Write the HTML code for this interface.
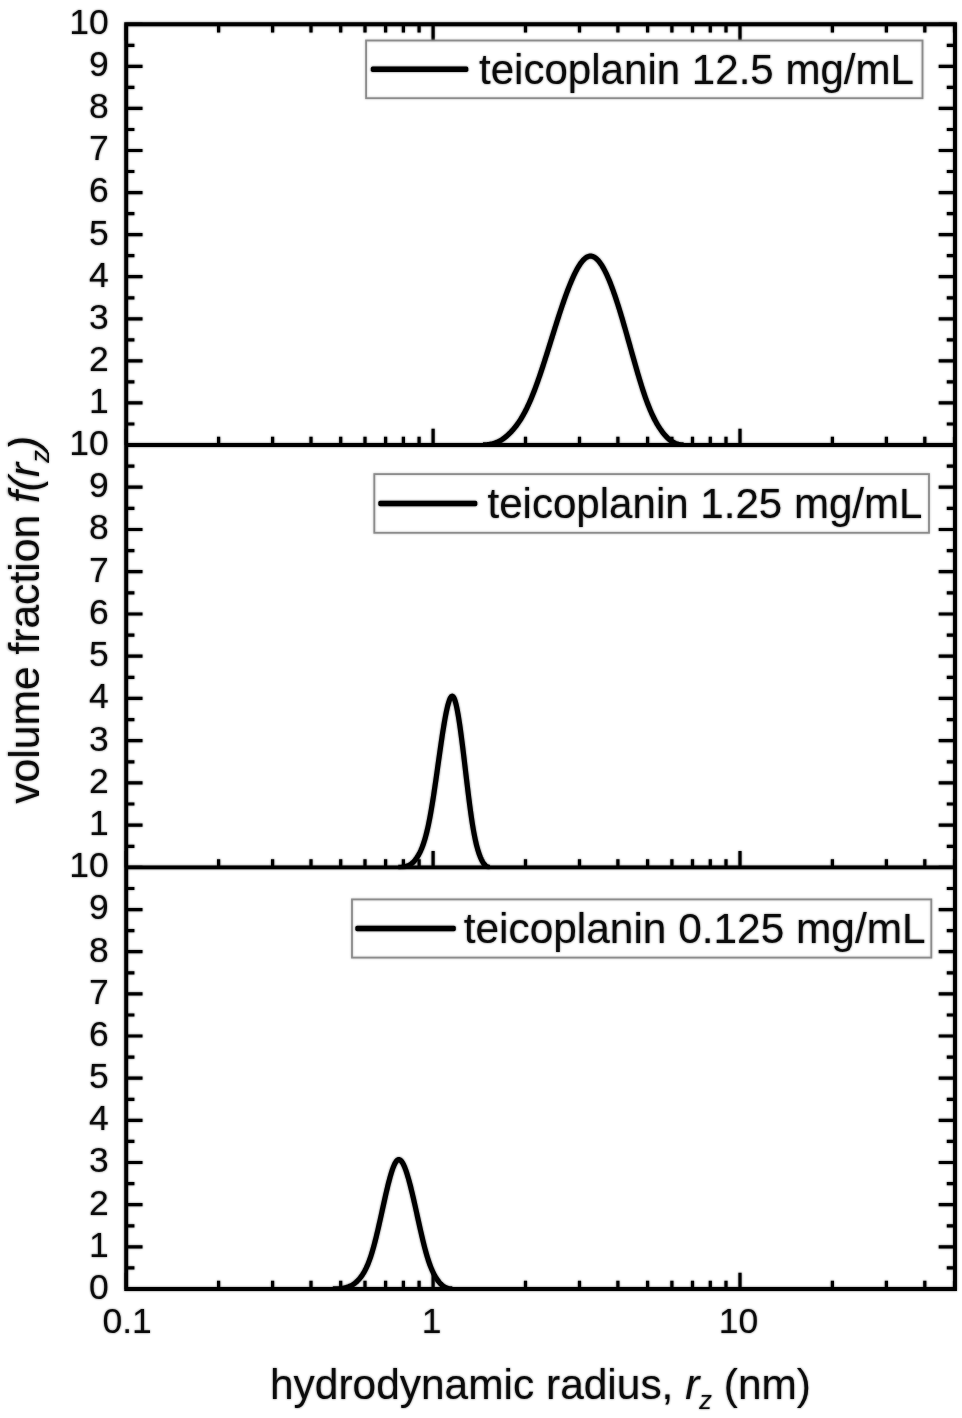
<!DOCTYPE html><html><head><meta charset="utf-8"><title>teicoplanin DLS</title>
<style>html,body{margin:0;padding:0;background:#fff}svg{display:block}text{font-family:"Liberation Sans",Arial,sans-serif;fill:#0a0a0a}</style></head><body>
<svg width="962" height="1418" viewBox="0 0 962 1418">
<rect width="962" height="1418" fill="#fff"/>
<defs><filter id="bl" x="0" y="0" width="962" height="1418" filterUnits="userSpaceOnUse"><feGaussianBlur stdDeviation="0.9"/></filter></defs>
<g id="chart">
<path d="M126.2 445.0h16.3M955.0 445.0h-16.3M126.2 424.0h8.2M955.0 424.0h-8.2M126.2 402.9h16.3M955.0 402.9h-16.3M126.2 381.9h8.2M955.0 381.9h-8.2M126.2 360.9h16.3M955.0 360.9h-16.3M126.2 339.8h8.2M955.0 339.8h-8.2M126.2 318.8h16.3M955.0 318.8h-16.3M126.2 297.8h8.2M955.0 297.8h-8.2M126.2 276.7h16.3M955.0 276.7h-16.3M126.2 255.7h8.2M955.0 255.7h-8.2M126.2 234.7h16.3M955.0 234.7h-16.3M126.2 213.6h8.2M955.0 213.6h-8.2M126.2 192.6h16.3M955.0 192.6h-16.3M126.2 171.5h8.2M955.0 171.5h-8.2M126.2 150.5h16.3M955.0 150.5h-16.3M126.2 129.5h8.2M955.0 129.5h-8.2M126.2 108.4h16.3M955.0 108.4h-16.3M126.2 87.4h8.2M955.0 87.4h-8.2M126.2 66.4h16.3M955.0 66.4h-16.3M126.2 45.3h8.2M955.0 45.3h-8.2M126.2 24.3h16.3M955.0 24.3h-16.3M126.2 445.0v-16.3M126.2 24.3v16.3M218.6 445.0v-8.2M218.6 24.3v8.2M272.6 445.0v-8.2M272.6 24.3v8.2M311.0 445.0v-8.2M311.0 24.3v8.2M340.7 445.0v-8.2M340.7 24.3v8.2M365.0 445.0v-8.2M365.0 24.3v8.2M385.6 445.0v-8.2M385.6 24.3v8.2M403.4 445.0v-8.2M403.4 24.3v8.2M419.1 445.0v-8.2M419.1 24.3v8.2M433.1 445.0v-16.3M433.1 24.3v16.3M525.5 445.0v-8.2M525.5 24.3v8.2M579.5 445.0v-8.2M579.5 24.3v8.2M617.9 445.0v-8.2M617.9 24.3v8.2M647.6 445.0v-8.2M647.6 24.3v8.2M671.9 445.0v-8.2M671.9 24.3v8.2M692.5 445.0v-8.2M692.5 24.3v8.2M710.3 445.0v-8.2M710.3 24.3v8.2M726.0 445.0v-8.2M726.0 24.3v8.2M740.0 445.0v-16.3M740.0 24.3v16.3M832.4 445.0v-8.2M832.4 24.3v8.2M886.4 445.0v-8.2M886.4 24.3v8.2M924.8 445.0v-8.2M924.8 24.3v8.2M954.5 445.0v-8.2M954.5 24.3v8.2M126.2 867.4h16.3M955.0 867.4h-16.3M126.2 846.3h8.2M955.0 846.3h-8.2M126.2 825.2h16.3M955.0 825.2h-16.3M126.2 804.0h8.2M955.0 804.0h-8.2M126.2 782.9h16.3M955.0 782.9h-16.3M126.2 761.8h8.2M955.0 761.8h-8.2M126.2 740.7h16.3M955.0 740.7h-16.3M126.2 719.6h8.2M955.0 719.6h-8.2M126.2 698.4h16.3M955.0 698.4h-16.3M126.2 677.3h8.2M955.0 677.3h-8.2M126.2 656.2h16.3M955.0 656.2h-16.3M126.2 635.1h8.2M955.0 635.1h-8.2M126.2 614.0h16.3M955.0 614.0h-16.3M126.2 592.8h8.2M955.0 592.8h-8.2M126.2 571.7h16.3M955.0 571.7h-16.3M126.2 550.6h8.2M955.0 550.6h-8.2M126.2 529.5h16.3M955.0 529.5h-16.3M126.2 508.4h8.2M955.0 508.4h-8.2M126.2 487.2h16.3M955.0 487.2h-16.3M126.2 466.1h8.2M955.0 466.1h-8.2M126.2 445.0h16.3M955.0 445.0h-16.3M126.2 867.4v-16.3M218.6 867.4v-8.2M272.6 867.4v-8.2M311.0 867.4v-8.2M340.7 867.4v-8.2M365.0 867.4v-8.2M385.6 867.4v-8.2M403.4 867.4v-8.2M419.1 867.4v-8.2M433.1 867.4v-16.3M525.5 867.4v-8.2M579.5 867.4v-8.2M617.9 867.4v-8.2M647.6 867.4v-8.2M671.9 867.4v-8.2M692.5 867.4v-8.2M710.3 867.4v-8.2M726.0 867.4v-8.2M740.0 867.4v-16.3M832.4 867.4v-8.2M886.4 867.4v-8.2M924.8 867.4v-8.2M954.5 867.4v-8.2M126.2 1289.0h16.3M955.0 1289.0h-16.3M126.2 1267.9h8.2M955.0 1267.9h-8.2M126.2 1246.8h16.3M955.0 1246.8h-16.3M126.2 1225.8h8.2M955.0 1225.8h-8.2M126.2 1204.7h16.3M955.0 1204.7h-16.3M126.2 1183.6h8.2M955.0 1183.6h-8.2M126.2 1162.5h16.3M955.0 1162.5h-16.3M126.2 1141.4h8.2M955.0 1141.4h-8.2M126.2 1120.4h16.3M955.0 1120.4h-16.3M126.2 1099.3h8.2M955.0 1099.3h-8.2M126.2 1078.2h16.3M955.0 1078.2h-16.3M126.2 1057.1h8.2M955.0 1057.1h-8.2M126.2 1036.0h16.3M955.0 1036.0h-16.3M126.2 1015.0h8.2M955.0 1015.0h-8.2M126.2 993.9h16.3M955.0 993.9h-16.3M126.2 972.8h8.2M955.0 972.8h-8.2M126.2 951.7h16.3M955.0 951.7h-16.3M126.2 930.6h8.2M955.0 930.6h-8.2M126.2 909.6h16.3M955.0 909.6h-16.3M126.2 888.5h8.2M955.0 888.5h-8.2M126.2 867.4h16.3M955.0 867.4h-16.3M126.2 1289.0v-16.3M218.6 1289.0v-8.2M272.6 1289.0v-8.2M311.0 1289.0v-8.2M340.7 1289.0v-8.2M365.0 1289.0v-8.2M385.6 1289.0v-8.2M403.4 1289.0v-8.2M419.1 1289.0v-8.2M433.1 1289.0v-16.3M525.5 1289.0v-8.2M579.5 1289.0v-8.2M617.9 1289.0v-8.2M647.6 1289.0v-8.2M671.9 1289.0v-8.2M692.5 1289.0v-8.2M710.3 1289.0v-8.2M726.0 1289.0v-8.2M740.0 1289.0v-16.3M832.4 1289.0v-8.2M886.4 1289.0v-8.2M924.8 1289.0v-8.2M954.5 1289.0v-8.2" stroke="#000" stroke-width="3.2" fill="none"/>
<path d="M126.2 24.3H955.0V1289.0H126.2Z M126.2 445.0H955.0 M126.2 867.4H955.0" stroke="#000" stroke-width="3.9" fill="none" stroke-linejoin="miter"/>
<clipPath id="cp0"><rect x="126.2" y="24.3" width="828.8" height="422.65"/></clipPath>
<path d="M483.0 444.97 L483.5 444.96 L484.0 444.94 L484.5 444.92 L485.0 444.90 L485.5 444.87 L486.0 444.84 L486.5 444.80 L487.0 444.75 L487.5 444.70 L488.0 444.65 L488.5 444.58 L489.0 444.51 L489.5 444.43 L490.0 444.35 L490.5 444.26 L491.0 444.16 L491.5 444.05 L492.0 443.93 L492.5 443.81 L493.0 443.67 L493.5 443.53 L494.0 443.38 L494.5 443.22 L495.0 443.05 L495.5 442.87 L496.0 442.68 L496.5 442.48 L497.0 442.27 L497.5 442.04 L498.0 441.81 L498.5 441.57 L499.0 441.32 L499.5 441.06 L500.0 440.78 L500.5 440.50 L501.0 440.20 L501.5 439.90 L502.0 439.58 L502.5 439.25 L503.0 438.91 L503.5 438.56 L504.0 438.20 L504.5 437.82 L505.0 437.44 L505.5 437.04 L506.0 436.63 L506.5 436.21 L507.0 435.78 L507.5 435.34 L508.0 434.89 L508.5 434.42 L509.0 433.94 L509.5 433.46 L510.0 432.96 L510.5 432.45 L511.0 431.93 L511.5 431.39 L512.0 430.85 L512.5 430.30 L513.0 429.73 L513.5 429.15 L514.0 428.57 L514.5 427.96 L515.0 427.35 L515.5 426.72 L516.0 426.07 L516.5 425.41 L517.0 424.74 L517.5 424.05 L518.0 423.34 L518.5 422.62 L519.0 421.88 L519.5 421.13 L520.0 420.36 L520.5 419.57 L521.0 418.77 L521.5 417.95 L522.0 417.11 L522.5 416.26 L523.0 415.39 L523.5 414.50 L524.0 413.59 L524.5 412.67 L525.0 411.73 L525.5 410.77 L526.0 409.79 L526.5 408.79 L527.0 407.78 L527.5 406.74 L528.0 405.69 L528.5 404.62 L529.0 403.53 L529.5 402.42 L530.0 401.29 L530.5 400.14 L531.0 398.97 L531.5 397.78 L532.0 396.57 L532.5 395.34 L533.0 394.09 L533.5 392.82 L534.0 391.53 L534.5 390.23 L535.0 388.90 L535.5 387.56 L536.0 386.21 L536.5 384.84 L537.0 383.45 L537.5 382.05 L538.0 380.64 L538.5 379.21 L539.0 377.77 L539.5 376.32 L540.0 374.85 L540.5 373.37 L541.0 371.88 L541.5 370.38 L542.0 368.88 L542.5 367.36 L543.0 365.83 L543.5 364.29 L544.0 362.75 L544.5 361.20 L545.0 359.64 L545.5 358.08 L546.0 356.51 L546.5 354.93 L547.0 353.35 L547.5 351.76 L548.0 350.18 L548.5 348.58 L549.0 346.99 L549.5 345.39 L550.0 343.79 L550.5 342.19 L551.0 340.59 L551.5 338.99 L552.0 337.39 L552.5 335.79 L553.0 334.19 L553.5 332.60 L554.0 331.00 L554.5 329.41 L555.0 327.82 L555.5 326.24 L556.0 324.66 L556.5 323.09 L557.0 321.52 L557.5 319.96 L558.0 318.40 L558.5 316.85 L559.0 315.31 L559.5 313.78 L560.0 312.25 L560.5 310.74 L561.0 309.23 L561.5 307.74 L562.0 306.25 L562.5 304.78 L563.0 303.32 L563.5 301.87 L564.0 300.43 L564.5 299.01 L565.0 297.60 L565.5 296.20 L566.0 294.82 L566.5 293.45 L567.0 292.10 L567.5 290.77 L568.0 289.46 L568.5 288.16 L569.0 286.88 L569.5 285.61 L570.0 284.37 L570.5 283.15 L571.0 281.94 L571.5 280.76 L572.0 279.60 L572.5 278.46 L573.0 277.34 L573.5 276.24 L574.0 275.17 L574.5 274.12 L575.0 273.09 L575.5 272.09 L576.0 271.12 L576.5 270.17 L577.0 269.24 L577.5 268.35 L578.0 267.48 L578.5 266.63 L579.0 265.82 L579.5 265.04 L580.0 264.28 L580.5 263.56 L581.0 262.86 L581.5 262.20 L582.0 261.56 L582.5 260.96 L583.0 260.39 L583.5 259.86 L584.0 259.36 L584.5 258.89 L585.0 258.45 L585.5 258.05 L586.0 257.69 L586.5 257.36 L587.0 257.07 L587.5 256.82 L588.0 256.60 L588.5 256.43 L589.0 256.29 L589.5 256.19 L590.0 256.13 L590.5 256.11 L591.0 256.13 L591.5 256.18 L592.0 256.28 L592.5 256.41 L593.0 256.58 L593.5 256.79 L594.0 257.04 L594.5 257.32 L595.0 257.64 L595.5 257.99 L596.0 258.38 L596.5 258.81 L597.0 259.27 L597.5 259.76 L598.0 260.29 L598.5 260.85 L599.0 261.45 L599.5 262.08 L600.0 262.74 L600.5 263.44 L601.0 264.16 L601.5 264.92 L602.0 265.71 L602.5 266.53 L603.0 267.39 L603.5 268.27 L604.0 269.18 L604.5 270.12 L605.0 271.09 L605.5 272.09 L606.0 273.12 L606.5 274.17 L607.0 275.26 L607.5 276.37 L608.0 277.50 L608.5 278.66 L609.0 279.85 L609.5 281.06 L610.0 282.30 L610.5 283.56 L611.0 284.85 L611.5 286.16 L612.0 287.49 L612.5 288.84 L613.0 290.22 L613.5 291.61 L614.0 293.03 L614.5 294.47 L615.0 295.93 L615.5 297.40 L616.0 298.90 L616.5 300.41 L617.0 301.94 L617.5 303.49 L618.0 305.06 L618.5 306.64 L619.0 308.24 L619.5 309.85 L620.0 311.47 L620.5 313.11 L621.0 314.77 L621.5 316.43 L622.0 318.11 L622.5 319.80 L623.0 321.50 L623.5 323.21 L624.0 324.93 L624.5 326.66 L625.0 328.39 L625.5 330.14 L626.0 331.89 L626.5 333.65 L627.0 335.41 L627.5 337.18 L628.0 338.95 L628.5 340.73 L629.0 342.50 L629.5 344.28 L630.0 346.07 L630.5 347.85 L631.0 349.63 L631.5 351.41 L632.0 353.20 L632.5 354.97 L633.0 356.75 L633.5 358.52 L634.0 360.29 L634.5 362.05 L635.0 363.81 L635.5 365.56 L636.0 367.30 L636.5 369.03 L637.0 370.75 L637.5 372.47 L638.0 374.17 L638.5 375.86 L639.0 377.54 L639.5 379.20 L640.0 380.85 L640.5 382.48 L641.0 384.10 L641.5 385.70 L642.0 387.28 L642.5 388.85 L643.0 390.39 L643.5 391.91 L644.0 393.41 L644.5 394.89 L645.0 396.35 L645.5 397.78 L646.0 399.18 L646.5 400.56 L647.0 401.91 L647.5 403.24 L648.0 404.54 L648.5 405.82 L649.0 407.07 L649.5 408.30 L650.0 409.50 L650.5 410.68 L651.0 411.83 L651.5 412.96 L652.0 414.07 L652.5 415.15 L653.0 416.21 L653.5 417.25 L654.0 418.26 L654.5 419.25 L655.0 420.21 L655.5 421.16 L656.0 422.08 L656.5 422.97 L657.0 423.85 L657.5 424.70 L658.0 425.54 L658.5 426.35 L659.0 427.14 L659.5 427.91 L660.0 428.65 L660.5 429.38 L661.0 430.09 L661.5 430.79 L662.0 431.47 L662.5 432.14 L663.0 432.78 L663.5 433.42 L664.0 434.03 L664.5 434.63 L665.0 435.21 L665.5 435.77 L666.0 436.32 L666.5 436.85 L667.0 437.36 L667.5 437.85 L668.0 438.33 L668.5 438.79 L669.0 439.23 L669.5 439.65 L670.0 440.06 L670.5 440.44 L671.0 440.81 L671.5 441.16 L672.0 441.50 L672.5 441.82 L673.0 442.12 L673.5 442.40 L674.0 442.66 L674.5 442.91 L675.0 443.14 L675.5 443.36 L676.0 443.56 L676.5 443.75 L677.0 443.92 L677.5 444.07 L678.0 444.21 L678.5 444.34 L679.0 444.45 L679.5 444.55 L680.0 444.64 L680.5 444.71 L681.0 444.78 L681.5 444.83 L682.0 444.88 L682.5 444.92 L683.0 444.94 L683.5 444.97" clip-path="url(#cp0)" stroke="#000" stroke-width="5.2" fill="none" stroke-linejoin="round" stroke-linecap="butt"/>
<clipPath id="cp1"><rect x="126.2" y="445.0" width="828.8" height="424.35"/></clipPath>
<path d="M398.3 867.37 L398.8 867.36 L399.3 867.34 L399.8 867.32 L400.3 867.29 L400.8 867.26 L401.3 867.22 L401.8 867.18 L402.3 867.13 L402.8 867.07 L403.3 866.99 L403.8 866.91 L404.3 866.82 L404.8 866.72 L405.3 866.60 L405.8 866.47 L406.3 866.32 L406.8 866.16 L407.3 865.98 L407.8 865.78 L408.3 865.57 L408.8 865.33 L409.3 865.07 L409.8 864.79 L410.3 864.48 L410.8 864.15 L411.3 863.79 L411.8 863.41 L412.3 862.99 L412.8 862.55 L413.3 862.08 L413.8 861.57 L414.3 861.03 L414.8 860.46 L415.3 859.84 L415.8 859.20 L416.3 858.51 L416.8 857.79 L417.3 857.03 L417.8 856.22 L418.3 855.38 L418.8 854.49 L419.3 853.56 L419.8 852.59 L420.3 851.56 L420.8 850.48 L421.3 849.33 L421.8 848.13 L422.3 846.86 L422.8 845.52 L423.3 844.11 L423.8 842.62 L424.3 841.06 L424.8 839.42 L425.3 837.70 L425.8 835.89 L426.3 833.99 L426.8 832.01 L427.3 829.92 L427.8 827.74 L428.3 825.46 L428.8 823.07 L429.3 820.57 L429.8 817.98 L430.3 815.29 L430.8 812.50 L431.3 809.63 L431.8 806.67 L432.3 803.63 L432.8 800.51 L433.3 797.32 L433.8 794.07 L434.3 790.76 L434.8 787.40 L435.3 783.98 L435.8 780.53 L436.3 777.04 L436.8 773.53 L437.3 769.99 L437.8 766.44 L438.3 762.89 L438.8 759.33 L439.3 755.79 L439.8 752.27 L440.3 748.77 L440.8 745.30 L441.3 741.88 L441.8 738.51 L442.3 735.21 L442.8 731.97 L443.3 728.81 L443.8 725.74 L444.3 722.77 L444.8 719.90 L445.3 717.15 L445.8 714.53 L446.3 712.04 L446.8 709.70 L447.3 707.51 L447.8 705.48 L448.3 703.63 L448.8 701.97 L449.3 700.49 L449.8 699.22 L450.3 698.16 L450.8 697.31 L451.3 696.70 L451.8 696.33 L452.3 696.20 L452.8 696.36 L453.3 696.83 L453.8 697.59 L454.3 698.64 L454.8 699.96 L455.3 701.54 L455.8 703.37 L456.3 705.44 L456.8 707.73 L457.3 710.23 L457.8 712.93 L458.3 715.81 L458.8 718.87 L459.3 722.10 L459.8 725.47 L460.3 728.98 L460.8 732.61 L461.3 736.36 L461.8 740.21 L462.3 744.15 L462.8 748.17 L463.3 752.25 L463.8 756.38 L464.3 760.55 L464.8 764.75 L465.3 768.97 L465.8 773.19 L466.3 777.41 L466.8 781.61 L467.3 785.77 L467.8 789.90 L468.3 793.97 L468.8 797.98 L469.3 801.92 L469.8 805.76 L470.3 809.51 L470.8 813.15 L471.3 816.68 L471.8 820.07 L472.3 823.32 L472.8 826.42 L473.3 829.36 L473.8 832.16 L474.3 834.81 L474.8 837.32 L475.3 839.70 L475.8 841.94 L476.3 844.06 L476.8 846.05 L477.3 847.92 L477.8 849.67 L478.3 851.32 L478.8 852.85 L479.3 854.30 L479.8 855.66 L480.3 856.95 L480.8 858.15 L481.3 859.27 L481.8 860.31 L482.3 861.27 L482.8 862.15 L483.3 862.95 L483.8 863.67 L484.3 864.31 L484.8 864.89 L485.3 865.39 L485.8 865.82 L486.3 866.19 L486.8 866.50 L487.3 866.76 L487.8 866.96 L488.3 867.12 L488.8 867.23 L489.3 867.31 L489.8 867.36" clip-path="url(#cp1)" stroke="#000" stroke-width="5.2" fill="none" stroke-linejoin="round" stroke-linecap="butt"/>
<clipPath id="cp2"><rect x="126.2" y="867.4" width="828.8" height="423.55"/></clipPath>
<path d="M332.8 1288.98 L333.3 1288.97 L333.8 1288.96 L334.3 1288.95 L334.8 1288.94 L335.3 1288.92 L335.8 1288.91 L336.3 1288.89 L336.8 1288.87 L337.3 1288.84 L337.8 1288.81 L338.3 1288.78 L338.8 1288.75 L339.3 1288.71 L339.8 1288.66 L340.3 1288.61 L340.8 1288.56 L341.3 1288.50 L341.8 1288.43 L342.3 1288.36 L342.8 1288.28 L343.3 1288.20 L343.8 1288.11 L344.3 1288.00 L344.8 1287.90 L345.3 1287.78 L345.8 1287.65 L346.3 1287.51 L346.8 1287.37 L347.3 1287.21 L347.8 1287.04 L348.3 1286.86 L348.8 1286.67 L349.3 1286.46 L349.8 1286.24 L350.3 1286.01 L350.8 1285.76 L351.3 1285.50 L351.8 1285.23 L352.3 1284.94 L352.8 1284.63 L353.3 1284.30 L353.8 1283.96 L354.3 1283.60 L354.8 1283.22 L355.3 1282.82 L355.8 1282.41 L356.3 1281.97 L356.8 1281.51 L357.3 1281.03 L357.8 1280.53 L358.3 1280.01 L358.8 1279.47 L359.3 1278.91 L359.8 1278.32 L360.3 1277.71 L360.8 1277.07 L361.3 1276.40 L361.8 1275.70 L362.3 1274.97 L362.8 1274.20 L363.3 1273.40 L363.8 1272.56 L364.3 1271.69 L364.8 1270.78 L365.3 1269.82 L365.8 1268.83 L366.3 1267.79 L366.8 1266.71 L367.3 1265.58 L367.8 1264.41 L368.3 1263.19 L368.8 1261.91 L369.3 1260.59 L369.8 1259.21 L370.3 1257.78 L370.8 1256.30 L371.3 1254.75 L371.8 1253.15 L372.3 1251.50 L372.8 1249.79 L373.3 1248.03 L373.8 1246.22 L374.3 1244.37 L374.8 1242.47 L375.3 1240.52 L375.8 1238.54 L376.3 1236.51 L376.8 1234.45 L377.3 1232.36 L377.8 1230.23 L378.3 1228.08 L378.8 1225.90 L379.3 1223.69 L379.8 1221.47 L380.3 1219.23 L380.8 1216.97 L381.3 1214.71 L381.8 1212.44 L382.3 1210.16 L382.8 1207.89 L383.3 1205.61 L383.8 1203.35 L384.3 1201.10 L384.8 1198.86 L385.3 1196.64 L385.8 1194.44 L386.3 1192.28 L386.8 1190.14 L387.3 1188.04 L387.8 1185.98 L388.3 1183.96 L388.8 1181.99 L389.3 1180.07 L389.8 1178.21 L390.3 1176.42 L390.8 1174.68 L391.3 1173.02 L391.8 1171.44 L392.3 1169.93 L392.8 1168.51 L393.3 1167.17 L393.8 1165.93 L394.3 1164.79 L394.8 1163.75 L395.3 1162.81 L395.8 1161.99 L396.3 1161.28 L396.8 1160.69 L397.3 1160.22 L397.8 1159.89 L398.3 1159.68 L398.8 1159.61 L399.3 1159.67 L399.8 1159.85 L400.3 1160.15 L400.8 1160.57 L401.3 1161.09 L401.8 1161.72 L402.3 1162.45 L402.8 1163.29 L403.3 1164.22 L403.8 1165.24 L404.3 1166.36 L404.8 1167.56 L405.3 1168.84 L405.8 1170.21 L406.3 1171.65 L406.8 1173.16 L407.3 1174.75 L407.8 1176.40 L408.3 1178.11 L408.8 1179.88 L409.3 1181.71 L409.8 1183.59 L410.3 1185.52 L410.8 1187.50 L411.3 1189.51 L411.8 1191.57 L412.3 1193.66 L412.8 1195.79 L413.3 1197.94 L413.8 1200.12 L414.3 1202.33 L414.8 1204.55 L415.3 1206.79 L415.8 1209.04 L416.3 1211.30 L416.8 1213.56 L417.3 1215.83 L417.8 1218.10 L418.3 1220.36 L418.8 1222.62 L419.3 1224.86 L419.8 1227.10 L420.3 1229.31 L420.8 1231.51 L421.3 1233.69 L421.8 1235.84 L422.3 1237.96 L422.8 1240.05 L423.3 1242.11 L423.8 1244.13 L424.3 1246.10 L424.8 1248.04 L425.3 1249.93 L425.8 1251.77 L426.3 1253.56 L426.8 1255.29 L427.3 1256.97 L427.8 1258.59 L428.3 1260.15 L428.8 1261.66 L429.3 1263.11 L429.8 1264.50 L430.3 1265.84 L430.8 1267.13 L431.3 1268.37 L431.8 1269.56 L432.3 1270.70 L432.8 1271.79 L433.3 1272.84 L433.8 1273.84 L434.3 1274.80 L434.8 1275.71 L435.3 1276.59 L435.8 1277.42 L436.3 1278.21 L436.8 1278.97 L437.3 1279.70 L437.8 1280.41 L438.3 1281.08 L438.8 1281.72 L439.3 1282.33 L439.8 1282.91 L440.3 1283.46 L440.8 1283.98 L441.3 1284.47 L441.8 1284.93 L442.3 1285.36 L442.8 1285.76 L443.3 1286.14 L443.8 1286.48 L444.3 1286.80 L444.8 1287.10 L445.3 1287.36 L445.8 1287.61 L446.3 1287.83 L446.8 1288.02 L447.3 1288.20 L447.8 1288.35 L448.3 1288.48 L448.8 1288.60 L449.3 1288.69 L449.8 1288.77 L450.3 1288.84 L450.8 1288.89 L451.3 1288.93 L451.8 1288.96 L452.3 1288.98" clip-path="url(#cp2)" stroke="#000" stroke-width="5.2" fill="none" stroke-linejoin="round" stroke-linecap="butt"/>
<text x="108.7" y="412.7" font-size="35.5" text-anchor="end">1</text>
<text x="108.7" y="370.7" font-size="35.5" text-anchor="end">2</text>
<text x="108.7" y="328.6" font-size="35.5" text-anchor="end">3</text>
<text x="108.7" y="286.5" font-size="35.5" text-anchor="end">4</text>
<text x="108.7" y="244.5" font-size="35.5" text-anchor="end">5</text>
<text x="108.7" y="202.4" font-size="35.5" text-anchor="end">6</text>
<text x="108.7" y="160.3" font-size="35.5" text-anchor="end">7</text>
<text x="108.7" y="118.2" font-size="35.5" text-anchor="end">8</text>
<text x="108.7" y="76.2" font-size="35.5" text-anchor="end">9</text>
<text x="108.7" y="34.1" font-size="35.5" text-anchor="end">10</text>
<text x="108.7" y="835.0" font-size="35.5" text-anchor="end">1</text>
<text x="108.7" y="792.7" font-size="35.5" text-anchor="end">2</text>
<text x="108.7" y="750.5" font-size="35.5" text-anchor="end">3</text>
<text x="108.7" y="708.2" font-size="35.5" text-anchor="end">4</text>
<text x="108.7" y="666.0" font-size="35.5" text-anchor="end">5</text>
<text x="108.7" y="623.8" font-size="35.5" text-anchor="end">6</text>
<text x="108.7" y="581.5" font-size="35.5" text-anchor="end">7</text>
<text x="108.7" y="539.3" font-size="35.5" text-anchor="end">8</text>
<text x="108.7" y="497.0" font-size="35.5" text-anchor="end">9</text>
<text x="108.7" y="454.8" font-size="35.5" text-anchor="end">10</text>
<text x="108.7" y="1298.8" font-size="35.5" text-anchor="end">0</text>
<text x="108.7" y="1256.6" font-size="35.5" text-anchor="end">1</text>
<text x="108.7" y="1214.5" font-size="35.5" text-anchor="end">2</text>
<text x="108.7" y="1172.3" font-size="35.5" text-anchor="end">3</text>
<text x="108.7" y="1130.2" font-size="35.5" text-anchor="end">4</text>
<text x="108.7" y="1088.0" font-size="35.5" text-anchor="end">5</text>
<text x="108.7" y="1045.8" font-size="35.5" text-anchor="end">6</text>
<text x="108.7" y="1003.7" font-size="35.5" text-anchor="end">7</text>
<text x="108.7" y="961.5" font-size="35.5" text-anchor="end">8</text>
<text x="108.7" y="919.4" font-size="35.5" text-anchor="end">9</text>
<text x="108.7" y="877.2" font-size="35.5" text-anchor="end">10</text>
<text x="127.2" y="1333.2" font-size="35.5" text-anchor="middle">0.1</text>
<text x="431.6" y="1333.2" font-size="35.5" text-anchor="middle">1</text>
<text x="738.5" y="1333.2" font-size="35.5" text-anchor="middle">10</text>
<rect x="366.1" y="40.5" width="556.4" height="57.7" fill="none" stroke="#8c8c8c" stroke-width="1.8"/>
<rect x="370.8" y="66.6" width="97.5" height="5.4" rx="1.8" fill="#000"/>
<text x="479.0" y="83.6" font-size="42" textLength="435.0" lengthAdjust="spacingAndGlyphs">teicoplanin 12.5 mg/mL</text>
<rect x="374.3" y="474.1" width="554.7" height="58.7" fill="none" stroke="#8c8c8c" stroke-width="1.8"/>
<rect x="378.3" y="500.8" width="99.0" height="5.4" rx="1.8" fill="#000"/>
<text x="487.5" y="517.8" font-size="42" textLength="435.0" lengthAdjust="spacingAndGlyphs">teicoplanin 1.25 mg/mL</text>
<rect x="352.0" y="899.4" width="579.3" height="58.2" fill="none" stroke="#8c8c8c" stroke-width="1.8"/>
<rect x="355.3" y="925.8" width="100.5" height="5.4" rx="1.8" fill="#000"/>
<text x="463.7" y="942.8" font-size="42" textLength="461.9" lengthAdjust="spacingAndGlyphs">teicoplanin 0.125 mg/mL</text>
<text x="270" y="1398.5" font-size="42" textLength="541" lengthAdjust="spacingAndGlyphs">hydrodynamic radius, <tspan font-style="italic">r</tspan><tspan font-size="25" dy="10" font-style="italic">z</tspan><tspan dy="-10"> (nm)</tspan></text>
<text transform="translate(38.5 803.7) rotate(-90)" font-size="42" textLength="367.7" lengthAdjust="spacingAndGlyphs">volume fraction <tspan font-style="italic">f(r</tspan><tspan font-size="25" dy="10" font-style="italic">z</tspan><tspan dy="-10" font-style="italic">)</tspan></text>
</g>
<use href="#chart" filter="url(#bl)" opacity="0.55"/>
</svg></body></html>
